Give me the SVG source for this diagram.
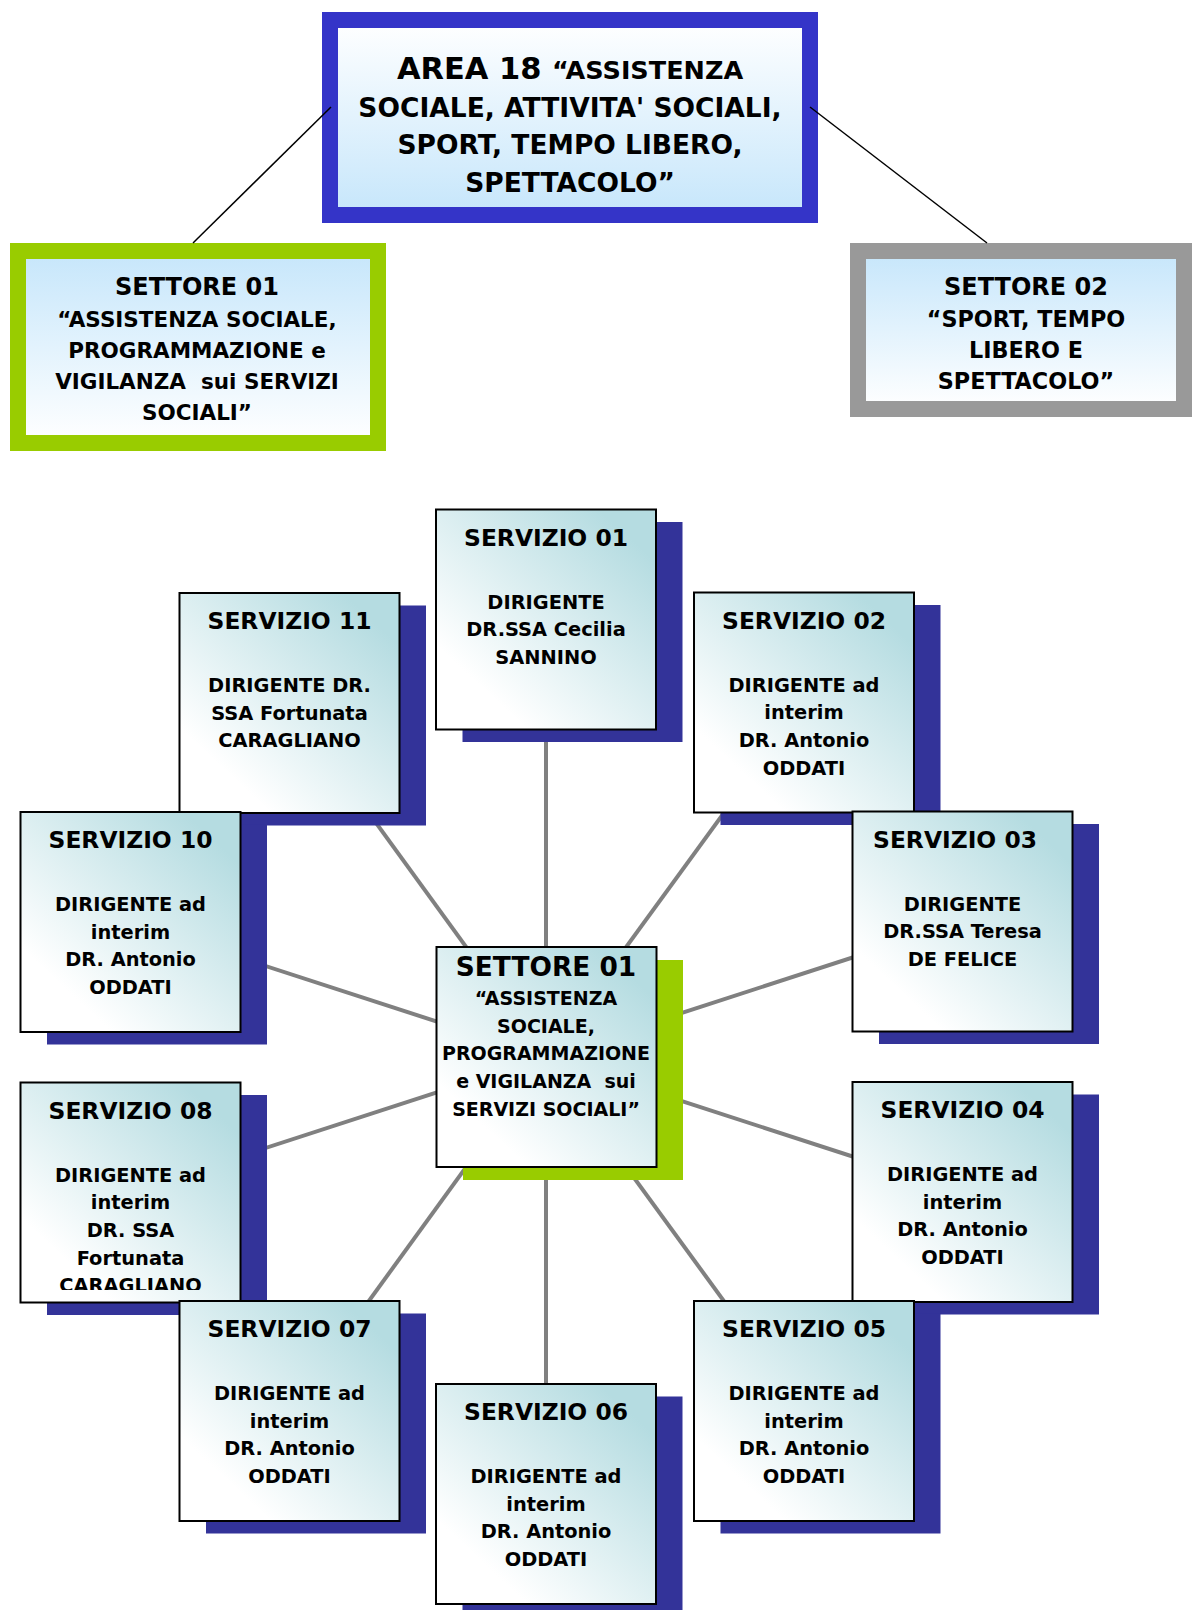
<svg xmlns="http://www.w3.org/2000/svg" width="1192" height="1610" viewBox="0 0 1192 1610">
  <defs>
    <linearGradient id="gArea" x1="0" y1="0" x2="0" y2="1">
      <stop offset="0" stop-color="#ffffff"/>
      <stop offset="1" stop-color="#c6e6fb"/>
    </linearGradient>
    <linearGradient id="gSett" x1="0" y1="0" x2="0" y2="1">
      <stop offset="0" stop-color="#c6e6fb"/>
      <stop offset="1" stop-color="#ffffff"/>
    </linearGradient>
    <linearGradient id="gServ" x1="0.85" y1="0.1" x2="0.2" y2="0.8">
      <stop offset="0" stop-color="#b5dce1"/>
      <stop offset="1" stop-color="#ffffff"/>
    </linearGradient>
    <clipPath id="clipS08">
      <rect x="20" y="1082" width="220" height="208"/>
    </clipPath>
  </defs>
  <style>
    .t { font-family: 'DejaVu Sans', 'Liberation Sans', sans-serif; font-weight: bold; text-anchor: middle; fill: #000; }
    .ttl { font-size: 23.4px; }
    .body { font-size: 19.4px; }
    .box { fill: url(#gServ); stroke: #000; stroke-width: 2; }
    .shadow { fill: #333399; }
    .conn { stroke: #808080; stroke-width: 4; fill: none; }
    .conn-top { stroke: #000; stroke-width: 1.5; fill: none; }
  </style>
  <rect width="1192" height="1610" fill="#ffffff"/>

  <g id="connectors">
    <line class="conn" x1="546" y1="1057" x2="546" y2="619"/>
    <line class="conn" x1="546" y1="1057" x2="289" y2="703"/>
    <line class="conn" x1="546" y1="1057" x2="804" y2="703"/>
    <line class="conn" x1="546" y1="1057" x2="130" y2="922"/>
    <line class="conn" x1="546" y1="1057" x2="962" y2="922"/>
    <line class="conn" x1="546" y1="1057" x2="130" y2="1192"/>
    <line class="conn" x1="546" y1="1057" x2="962" y2="1192"/>
    <line class="conn" x1="546" y1="1057" x2="289" y2="1411"/>
    <line class="conn" x1="546" y1="1057" x2="804" y2="1411"/>
    <line class="conn" x1="546" y1="1057" x2="546" y2="1494"/>
  </g>

  <g id="area18">
    <rect x="330" y="20" width="480" height="195" fill="url(#gArea)" stroke="#3434c8" stroke-width="16"/>
    <text class="t" x="570" y="79" font-size="30.5">AREA 18 <tspan font-size="25.5">“ASSISTENZA</tspan></text>
    <text class="t" x="570" y="116.5" font-size="26.5">SOCIALE, ATTIVITA' SOCIALI,</text>
    <text class="t" x="570" y="154" font-size="26.5">SPORT, TEMPO LIBERO,</text>
    <text class="t" x="570" y="191.5" font-size="26.5">SPETTACOLO”</text>
  </g>

  <g id="settore01-top">
    <rect x="18" y="251" width="360" height="192" fill="url(#gSett)" stroke="#99cc00" stroke-width="16"/>
    <text class="t" x="197" y="295" font-size="24">SETTORE 01</text>
    <text class="t" x="197" y="326.5" font-size="21.5">“ASSISTENZA SOCIALE,</text>
    <text class="t" x="197" y="357.5" font-size="21.5">PROGRAMMAZIONE e</text>
    <text class="t" x="197" y="389" font-size="21.5" xml:space="preserve">VIGILANZA  sui SERVIZI</text>
    <text class="t" x="197" y="420" font-size="21.5">SOCIALI”</text>
  </g>

  <g id="settore02-top">
    <rect x="858" y="251" width="326" height="158" fill="url(#gSett)" stroke="#999999" stroke-width="16"/>
    <text class="t" x="1026" y="295" font-size="24">SETTORE 02</text>
    <text class="t" x="1026" y="326.5" font-size="22.3">“SPORT, TEMPO</text>
    <text class="t" x="1026" y="357.5" font-size="22.3">LIBERO E</text>
    <text class="t" x="1026" y="389" font-size="22.3">SPETTACOLO”</text>
  </g>

  <g id="connectors-top">
    <line class="conn-top" x1="193" y1="243" x2="331" y2="107"/>
    <line class="conn-top" x1="987" y1="243" x2="810" y2="107"/>
  </g>

  <g id="servizio01">
    <rect class="shadow" x="462.5" y="522" width="220" height="220"/>
    <rect class="box" x="436" y="509.5" width="220" height="220"/>
    <text class="t ttl" x="546" y="545.5">SERVIZIO 01</text>
    <text class="t body" x="546" y="608.5">DIRIGENTE<tspan x="546" dy="27.7">DR.SSA Cecilia</tspan><tspan x="546" dy="27.7">SANNINO</tspan></text>
  </g>

  <g id="servizio11">
    <rect class="shadow" x="206" y="605.5" width="220" height="220"/>
    <rect class="box" x="179.5" y="593" width="220" height="220"/>
    <text class="t ttl" x="289.5" y="629">SERVIZIO 11</text>
    <text class="t body" x="289.5" y="692">DIRIGENTE DR.<tspan x="289.5" dy="27.7">SSA Fortunata</tspan><tspan x="289.5" dy="27.7">CARAGLIANO</tspan></text>
  </g>

  <g id="servizio02">
    <rect class="shadow" x="720.5" y="605" width="220" height="220"/>
    <rect class="box" x="694" y="592.5" width="220" height="220"/>
    <text class="t ttl" x="804" y="628.5">SERVIZIO 02</text>
    <text class="t body" x="804" y="691.5">DIRIGENTE ad<tspan x="804" dy="27.7">interim</tspan><tspan x="804" dy="27.7">DR. Antonio</tspan><tspan x="804" dy="27.7">ODDATI</tspan></text>
  </g>

  <g id="servizio10">
    <rect class="shadow" x="47" y="824.5" width="220" height="220"/>
    <rect class="box" x="20.5" y="812" width="220" height="220"/>
    <text class="t ttl" x="130.5" y="848">SERVIZIO 10</text>
    <text class="t body" x="130.5" y="911">DIRIGENTE ad<tspan x="130.5" dy="27.7">interim</tspan><tspan x="130.5" dy="27.7">DR. Antonio</tspan><tspan x="130.5" dy="27.7">ODDATI</tspan></text>
  </g>

  <g id="servizio03">
    <rect class="shadow" x="879" y="824" width="220" height="220"/>
    <rect class="box" x="852.5" y="811.5" width="220" height="220"/>
    <text class="t ttl" x="955" y="847.5">SERVIZIO 03</text>
    <text class="t body" x="962.5" y="910.5">DIRIGENTE<tspan x="962.5" dy="27.7">DR.SSA Teresa</tspan><tspan x="962.5" dy="27.7">DE FELICE</tspan></text>
  </g>

  <g id="settore01-center">
    <rect x="463" y="960" width="220" height="220" fill="#99cc00"/>
    <rect class="box" x="436.5" y="947" width="220" height="220"/>
    <text class="t" x="546" y="976" font-size="26.4">SETTORE 01</text>
    <text class="t" x="546" y="1005" font-size="19">“ASSISTENZA<tspan x="546" dy="27.7">SOCIALE,</tspan><tspan x="546" dy="27.7">PROGRAMMAZIONE</tspan><tspan x="546" dy="27.7" xml:space="preserve">e VIGILANZA  sui</tspan><tspan x="546" dy="27.7">SERVIZI SOCIALI”</tspan></text>
  </g>

  <g id="servizio08">
    <rect class="shadow" x="47" y="1095" width="220" height="220"/>
    <rect class="box" x="20.5" y="1082.5" width="220" height="220"/>
    <text class="t ttl" x="130.5" y="1118.5">SERVIZIO 08</text>
    <g clip-path="url(#clipS08)">
      <text class="t body" x="130.5" y="1181.5">DIRIGENTE ad<tspan x="130.5" dy="27.7">interim</tspan><tspan x="130.5" dy="27.7">DR. SSA</tspan><tspan x="130.5" dy="27.7">Fortunata</tspan><tspan x="130.5" dy="27.7">CARAGLIANO</tspan></text>
    </g>
  </g>

  <g id="servizio04">
    <rect class="shadow" x="879" y="1094.5" width="220" height="220"/>
    <rect class="box" x="852.5" y="1082" width="220" height="220"/>
    <text class="t ttl" x="962.5" y="1118">SERVIZIO 04</text>
    <text class="t body" x="962.5" y="1181">DIRIGENTE ad<tspan x="962.5" dy="27.7">interim</tspan><tspan x="962.5" dy="27.7">DR. Antonio</tspan><tspan x="962.5" dy="27.7">ODDATI</tspan></text>
  </g>

  <g id="servizio07">
    <rect class="shadow" x="206" y="1313.5" width="220" height="220"/>
    <rect class="box" x="179.5" y="1301" width="220" height="220"/>
    <text class="t ttl" x="289.5" y="1337">SERVIZIO 07</text>
    <text class="t body" x="289.5" y="1400">DIRIGENTE ad<tspan x="289.5" dy="27.7">interim</tspan><tspan x="289.5" dy="27.7">DR. Antonio</tspan><tspan x="289.5" dy="27.7">ODDATI</tspan></text>
  </g>

  <g id="servizio05">
    <rect class="shadow" x="720.5" y="1313.5" width="220" height="220"/>
    <rect class="box" x="694" y="1301" width="220" height="220"/>
    <text class="t ttl" x="804" y="1337">SERVIZIO 05</text>
    <text class="t body" x="804" y="1400">DIRIGENTE ad<tspan x="804" dy="27.7">interim</tspan><tspan x="804" dy="27.7">DR. Antonio</tspan><tspan x="804" dy="27.7">ODDATI</tspan></text>
  </g>

  <g id="servizio06">
    <rect class="shadow" x="462.5" y="1396.5" width="220" height="220"/>
    <rect class="box" x="436" y="1384" width="220" height="220"/>
    <text class="t ttl" x="546" y="1420">SERVIZIO 06</text>
    <text class="t body" x="546" y="1483">DIRIGENTE ad<tspan x="546" dy="27.7">interim</tspan><tspan x="546" dy="27.7">DR. Antonio</tspan><tspan x="546" dy="27.7">ODDATI</tspan></text>
  </g>
</svg>
